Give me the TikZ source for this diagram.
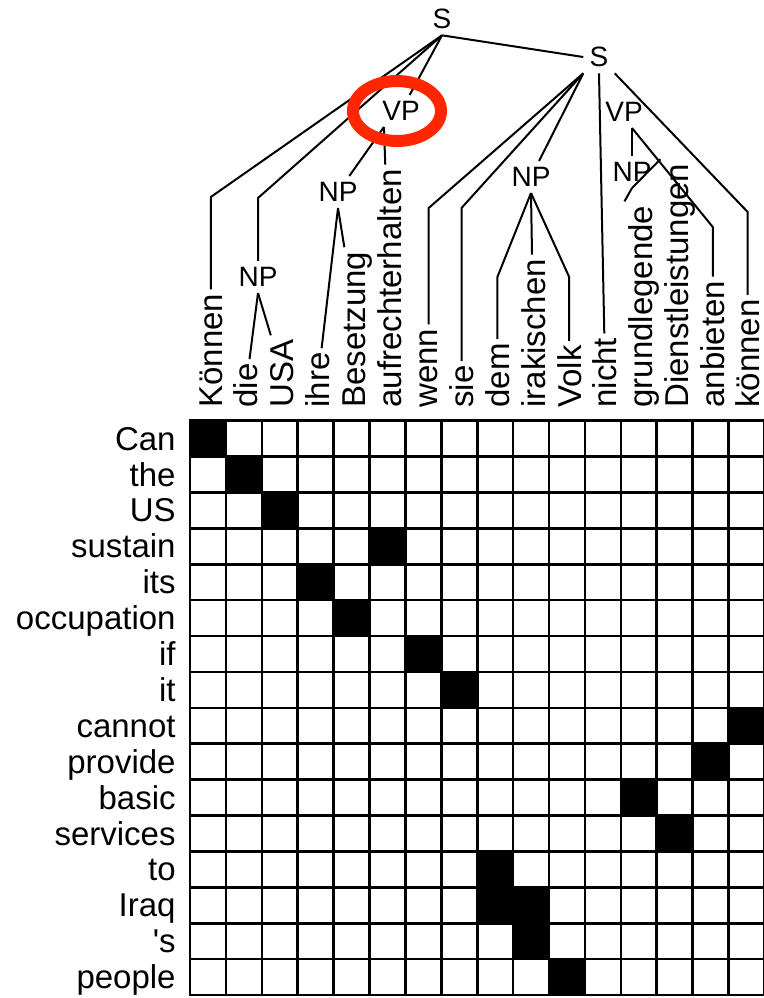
\documentclass[tikz,border=0pt]{standalone}
\usepackage{fontspec}
\setmainfont{Liberation Sans}
\usetikzlibrary{positioning,calc}
\definecolor{ringred}{RGB}{255,38,0}

\begin{document}
\begin{tikzpicture}[x=0.5pt, y=-0.5pt,
  cat/.style={inner sep=3pt, font=\fontsize{14}{16}\selectfont},
  word/.style={rotate=90, anchor=base west, inner sep=2pt, font=\fontsize{16.5}{19}\selectfont},
  eword/.style={anchor=base east, inner sep=2pt, font=\fontsize{16.5}{19}\selectfont},
  edge/.style={line width=1pt},
  cell/.style={line width=1.3pt, line cap=rect},
  ring/.style={draw=ringred, line width=6pt}]
\useasboundingbox (0,0) rectangle (764,998);

% german words, one per column
\node[word] (w0) at (222,412) {Können};
\node[word] (w1) at (257.9,412) {die};
\node[word] (w2) at (293.8,412) {USA};
\node[word] (w3) at (329.7,412) {ihre};
\node[word] (w4) at (365.6,412) {Besetzung};
\node[word] (w5) at (401.5,412) {aufrechterhalten};
\node[word] (w6) at (437.4,412) {wenn};
\node[word] (w7) at (473.3,412) {sie};
\node[word] (w8) at (509.2,412) {dem};
\node[word] (w9) at (545.1,412) {irakischen};
\node[word] (w10) at (581,412) {Volk};
\node[word] (w11) at (616.9,412) {nicht};
\node[word] (w12) at (652.8,412) {grundlegende};
\node[word] (w13) at (688.7,412) {Dienstleistungen};
\node[word] (w14) at (724.6,412) {anbieten};
\node[word] (w15) at (759.5,412) {können};

% parse tree
\node[cat] (S1) at (442,19) {S};
\node[cat] (S2) at (599,57) {S};
\node[cat] (VP1) at (401,111) {VP};
\node[cat] (NP2) at (338,192) {NP};
\node[cat] (NP1) at (258,277) {NP};
\node[cat] (NP3) at (531,177) {NP};
\node[cat] (VP2) at (624,112) {VP};
\node[cat] (NP4) at (632,172) {NP};

\draw[edge] (S1.south) -- (w0 |- 0,197) -- (w0);
\draw[edge] (S1.south) -- (NP1 |- 0,198) -- (NP1);
\draw[edge] (S1.south) -- (VP1);
\draw[edge] (S1.south) -- (S2.west);
\draw[edge] (NP1.south) -- (w1);
\draw[edge] (NP1.south) -- (w2);
\draw[edge] ([xshift=4pt]VP1.south west) -- (NP2);
\draw[edge] ([xshift=4pt]VP1.south west) -- (w5);
\draw[edge] (NP2.south) -- (w3);
\draw[edge] (NP2.south) -- (w4);
\draw[edge] (S2.south west) -- (w6 |- 0,208) -- (w6);
\draw[edge] (S2.south west) -- (w7 |- 0,208) -- (w7);
\draw[edge] (S2.south west) -- (NP3);
\draw[edge] (S2.south) -- (w11);
\draw[edge] (S2.south east) -- (w15 |- 0,212) -- (w15);
\draw[edge] (NP3.south) -- (w8 |- 0,277) -- (w8);
\draw[edge] (NP3.south) -- (w9);
\draw[edge] (NP3.south) -- (w10 |- 0,277) -- (w10);
\draw[edge] ([xshift=4pt]VP2.south) -- (NP4);
\draw[edge] ([xshift=4pt]VP2.south) -- (w14 |- 0,227) -- (w14.east);
\draw[edge] (NP4.south) -- (w12.north east);
\draw[edge] (NP4.south) -- (w13.north east);

% english words, one per row
\foreach \t [count=\i from 0] in {Can,the,US,sustain,its,occupation,if,it,cannot,provide,basic,services,to,Iraq,\textquotesingle s,people}
  \node[eword] (e\i) at (180,{450.1+35.9*\i}) {\t};

% alignment matrix
\foreach \r/\c in {0/0,1/1,2/2,3/5,4/3,5/4,6/6,7/7,8/15,9/14,10/12,11/13,12/8,13/8,13/9,14/9,15/10}
  \fill ({190+35.9*\c},{420.6+35.9*\r}) rectangle ++(35.9,35.9);
\foreach \i in {0,...,16} {
  \draw[cell] ({190+35.9*\i},420.6) -- ++(0,574.4);
  \draw[cell] (190,{420.6+35.9*\i}) -- ++(574.4,0);
}

% highlight
\draw[ring] ([xshift=-2pt]VP1.center) ellipse [x radius=44, y radius=30];
\end{tikzpicture}
\end{document}
